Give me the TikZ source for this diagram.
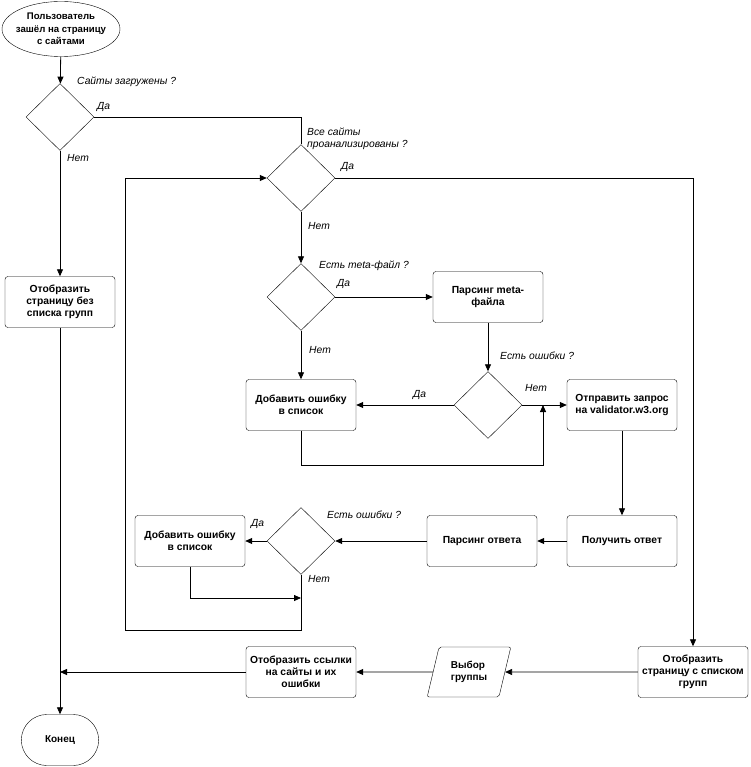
\documentclass[tikz,border=0pt]{standalone}
\usepackage{fontspec}
\setmainfont{Liberation Sans}
\usetikzlibrary{arrows.meta, positioning, shapes.geometric, shapes.misc}

\begin{document}
\begin{tikzpicture}[
  x=1pt, y=-1pt,
  box/.style={draw, rounded corners=3pt, minimum width=110pt, minimum height=51pt,
              align=center, inner sep=1pt, font=\fontsize{10.3}{12}\selectfont\bfseries},
  term/.style={draw, ellipse, minimum width=118pt, minimum height=55pt, inner sep=-4pt,
               align=center, font=\fontsize{9.6}{12.5}\selectfont\bfseries},
  stop/.style={draw, rounded rectangle, minimum width=84pt, minimum height=51pt,
               font=\fontsize{10}{12}\selectfont\bfseries},
  io/.style={draw, trapezium, trapezium left angle=72, trapezium right angle=108,
             trapezium stretches=true, minimum width=84pt, minimum height=50pt,
             rounded corners=2pt, align=left, inner sep=1pt,
             font=\fontsize{10}{12}\selectfont\bfseries},
  dec/.style={draw, diamond, minimum width=68pt, minimum height=67pt, inner sep=0pt},
  lbl/.style={anchor=west, inner sep=0pt, align=left, font=\fontsize{10.3}{12.5}\selectfont\itshape},
  arr/.style={-{Triangle[length=7pt, width=6pt]}, line width=0.8pt},
  line/.style={line width=0.8pt}
]
  \useasboundingbox (0,0) rectangle (750,767);

  % nodes
  \node[term] (start) at (61,29) {Пользователь\\зашёл на страницу\\с сайтами};
  \node[dec] (loaded) at (60,117) {};
  \node[box] (nogroups) at (60,302) {Отобразить\\страницу без\\списка групп};
  \node[stop] (finish) at (60,740) {Конец};

  \node[dec] (alldone) at (301,178) {};
  \node[dec] (hasmeta) at (301,297) {};
  \node[box] (parsemeta) at (488,297) {Парсинг meta-\\файла};
  \node[dec] (metaerr) at (488,405) {};
  \node[box] (adderr) at (301,405) {Добавить ошибку\\в список};
  \node[box] (request) at (622,405) {Отправить запрос\\на validator.w3.org};
  \node[box] (response) at (622,541) {Получить ответ};
  \node[box] (parseresp) at (482,541) {Парсинг ответа};
  \node[dec] (resperr) at (301,541) {};
  \node[box] (adderrb) at (190,541) {Добавить ошибку\\в список};

  \node[box] (showgroups) at (693,672) {Отобразить\\страницу с списком\\групп};
  \node[io] (choose) at (469,672) {Выбор\\группы};
  \node[box] (showlinks) at (301,672) {Отобразить ссылки\\на сайты и их\\ошибки};

  \coordinate (metajoin) at (543,405);
  \coordinate (respjoin) at (301,598);
  \coordinate (loopcorner) at (125,630);
  \coordinate (endjoin) at (60,672);

  % labels
  \node[lbl] (qloaded) at (77,82) {Сайты загружены ?};
  \node[lbl] (yloaded) at (97,107) {Да};
  \node[lbl] (nloaded) at (67,158) {Нет};
  \node[lbl] (qalldone) at (307,139) {Все сайты\\проанализированы ?};
  \node[lbl] (yalldone) at (341,167) {Да};
  \node[lbl] (nalldone) at (308,226) {Нет};
  \node[lbl] (qhasmeta) at (319,266) {Есть meta-файл ?};
  \node[lbl] (yhasmeta) at (337,284) {Да};
  \node[lbl] (nhasmeta) at (309,350) {Нет};
  \node[lbl] (qmetaerr) at (500,356) {Есть ошибки ?};
  \node[lbl] (ymetaerr) at (413,395) {Да};
  \node[lbl] (nmetaerr) at (525,388) {Нет};
  \node[lbl] (qresperr) at (327,515) {Есть ошибки ?};
  \node[lbl] (yresperr) at (251,524) {Да};
  \node[lbl] (nresperr) at (308,579) {Нет};

  % connectors
  \draw[arr] (start) -- (loaded);
  \draw[line] (loaded.east) -| (alldone.north);
  \draw[arr] (loaded.south) -- (nogroups.north);
  \draw[arr] (nogroups.south) -- (finish.north);
  \draw[arr] (alldone.east) -| (showgroups.north);
  \draw[arr] (alldone.south) -- (hasmeta.north);
  \draw[arr] (hasmeta.east) -- (parsemeta.west);
  \draw[arr] (hasmeta.south) -- (adderr.north);
  \draw[arr] (parsemeta.south) -- (metaerr.north);
  \draw[arr] (metaerr.west) -- (adderr.east);
  \draw[arr] (metaerr.east) -- (request.west);
  \draw[arr] (adderr.south) -- ++(0,35) -| (metajoin);
  \draw[arr] (request.south) -- (response.north);
  \draw[arr] (response.west) -- (parseresp.east);
  \draw[arr] (parseresp.west) -- (resperr.east);
  \draw[arr] (resperr.west) -- (adderrb.east);
  \draw[arr] (adderrb.south) |- (respjoin);
  \draw[arr] (resperr.south) |- (loopcorner) |- (alldone.west);
  \draw[arr] (showgroups.west) -- (choose.east);
  \draw[arr] (choose.west) -- (showlinks.east);
  \draw[arr] (showlinks.west) -- (endjoin);
\end{tikzpicture}
\end{document}
